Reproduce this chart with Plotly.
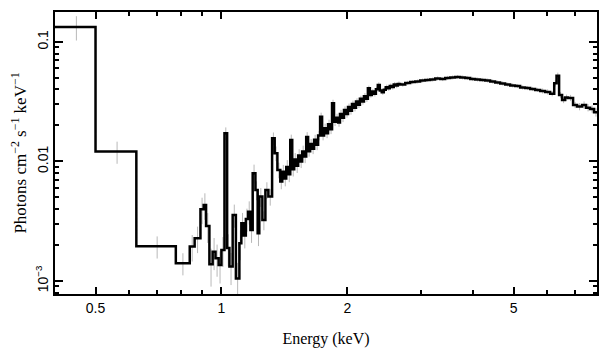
import numpy as np
import plotly.graph_objects as go

# Bin left edges (keV) and last right edge
bin_lo = [0.40, 0.50, 0.626, 0.778, 0.840, 0.863, 0.891, 0.907, 0.919, 0.936, 0.953, 0.968, 0.985,
          1.000, 1.017, 1.032, 1.045, 1.064, 1.083, 1.104, 1.116, 1.131, 1.144, 1.158, 1.173, 1.188,
          1.206, 1.221, 1.232, 1.253, 1.274, 1.295, 1.322, 1.341, 1.361,
          1.383, 1.398, 1.414, 1.429, 1.445, 1.461, 1.477, 1.493, 1.510, 1.526,
          1.543, 1.560, 1.577, 1.595, 1.612, 1.630, 1.648, 1.666, 1.685, 1.703,
          1.722, 1.741, 1.760, 1.780, 1.799, 1.819, 1.839, 1.859, 1.880, 1.901,
          1.921, 1.943, 1.964, 1.986, 2.008, 2.030, 2.052, 2.075, 2.098, 2.121,
          2.144, 2.168, 2.192, 2.216, 2.240, 2.265, 2.290, 2.315, 2.341, 2.366,
          2.392, 2.419, 2.445, 2.472, 2.500, 2.527, 2.555, 2.583, 2.612, 2.640,
          2.677, 2.752, 2.828, 2.907, 2.988, 3.072,
          3.157, 3.245, 3.336, 3.429, 3.525, 3.623, 3.724, 3.828, 3.935, 4.045, 4.158, 4.274, 4.393,
          4.515, 4.641, 4.771, 4.904, 5.041, 5.181, 5.326, 5.474, 5.627, 5.784, 5.945, 6.111, 6.250,
          6.330, 6.420, 6.526, 6.635, 6.745, 6.934, 7.089, 7.286, 7.447, 7.612, 7.782]
bin_hi_last = 7.95

# Flux (photons cm^-2 s^-1 keV^-1)
flux = [0.1335, 0.0121, 0.00195, 0.00141, 0.00194, 0.00228, 0.00398, 0.00433, 0.00289, 0.00138, 0.00176, 0.00155, 0.00136,
        0.00182, 0.0172, 0.00189, 0.00132, 0.00357, 0.00105, 0.00207, 0.00304, 0.00240, 0.00330, 0.00380, 0.00267, 0.00797,
        0.00577, 0.00251, 0.00508, 0.00324, 0.00577, 0.00508, 0.0156, 0.0117, 0.0085,
        0.0068, 0.0082, 0.0072, 0.0090, 0.0078, 0.0151, 0.0086, 0.0104, 0.0092, 0.0112,
        0.0100, 0.0121, 0.0110, 0.0160, 0.0122, 0.0140, 0.0128, 0.0152, 0.0138, 0.0165,
        0.0237, 0.0165, 0.0190, 0.0172, 0.0205, 0.0186, 0.0307, 0.0215, 0.0232, 0.0212,
        0.0250, 0.0232, 0.0270, 0.0250, 0.0285, 0.0265, 0.0302, 0.0282, 0.0318, 0.0298,
        0.0335, 0.0318, 0.0352, 0.0335, 0.0410, 0.0360, 0.0385, 0.0368, 0.0402, 0.0437,
        0.0392, 0.0380, 0.0398, 0.0418, 0.0410, 0.0428, 0.0420, 0.0440, 0.0432, 0.0445,
        0.0440, 0.0454, 0.0462, 0.0467, 0.0476, 0.0481,
        0.0485, 0.0495, 0.0490, 0.0500, 0.0505, 0.0509, 0.0505, 0.0500, 0.0490, 0.0485, 0.0481, 0.0476, 0.0467,
        0.0458, 0.0450, 0.0440, 0.0433, 0.0428, 0.0416, 0.0412, 0.0404, 0.0397, 0.0389, 0.0382, 0.0369, 0.0451,
        0.0522, 0.0360, 0.0327, 0.0342, 0.0340, 0.0297, 0.0288, 0.0297, 0.0282, 0.0275, 0.0258]

# Relative 1-sigma errors
err_frac = [0.23, 0.21, 0.21, 0.21, 0.25, 0.25, 0.25, 0.25, 0.28, 0.35, 0.30, 0.30, 0.30,
            0.28, 0.12, 0.30, 0.30, 0.22, 0.35, 0.28, 0.22, 0.22, 0.22, 0.22, 0.22, 0.18,
            0.18, 0.22, 0.18, 0.18, 0.16, 0.16, 0.12, 0.14, 0.15,
            0.14, 0.14, 0.14, 0.14, 0.14, 0.11, 0.13, 0.13, 0.13, 0.13,
            0.12, 0.12, 0.12, 0.10, 0.10, 0.10, 0.10, 0.10, 0.10, 0.09,
            0.08, 0.09, 0.09, 0.09, 0.09, 0.09, 0.07, 0.08, 0.08, 0.08,
            0.08, 0.08, 0.07, 0.07, 0.07, 0.07, 0.07, 0.07, 0.06, 0.06,
            0.06, 0.06, 0.06, 0.06, 0.05, 0.05, 0.05, 0.05, 0.05, 0.05,
            0.05, 0.05, 0.05, 0.05, 0.05, 0.05, 0.05, 0.05, 0.05, 0.05,
            0.04, 0.04, 0.04, 0.04, 0.04, 0.04,
            0.04, 0.04, 0.04, 0.04, 0.04, 0.04, 0.04, 0.04, 0.04, 0.04, 0.04, 0.04, 0.04,
            0.04, 0.04, 0.04, 0.04, 0.04, 0.04, 0.04, 0.04, 0.04, 0.05, 0.05, 0.05, 0.06,
            0.06, 0.06, 0.06, 0.06, 0.06, 0.06, 0.07, 0.07, 0.07, 0.07, 0.08]

assert len(bin_lo) == len(flux) == len(err_frac)

x_tick_vals = [0.5, 1, 2, 5]
x_tick_text = ["0.5", "1", "2", "5"]
x_minor = [0.4, 0.6, 0.7, 0.8, 0.9, 3, 4, 6, 7]
y_tick_vals = [0.001, 0.01, 0.1]
y_tick_text = ["10<sup>−3</sup>", "0.01", "0.1"]
y_minor = [8e-4, 9e-4] + [k * 1e-3 for k in range(2, 10)] + [k * 1e-2 for k in range(2, 10)]

edges = bin_lo + [bin_hi_last]
lo = np.array(bin_lo)
hi = np.array(bin_lo[1:] + [bin_hi_last])
centers = 0.5 * (lo + hi)
fl = np.array(flux)
err = fl * np.array(err_frac)

fig = go.Figure()
fig.add_trace(go.Scatter(
    x=centers, y=fl, mode="markers",
    marker=dict(size=1, color="rgba(0,0,0,0)"),
    error_y=dict(type="data", array=err, arrayminus=err, color="#b8b8b8", thickness=1, width=0),
    showlegend=False, hoverinfo="skip"))
fig.add_trace(go.Scatter(
    x=edges, y=flux + [flux[-1]], mode="lines",
    line=dict(color="black", width=2.5, shape="hv"),
    showlegend=False))

axis_common = dict(showline=True, linecolor="black", linewidth=1.5, mirror="ticks",
                   ticks="inside", tickwidth=1.5, tickcolor="black", showgrid=False, zeroline=False,
                   automargin=False)

fig.update_xaxes(type="log", range=[np.log10(0.4), np.log10(7.91)],
                 tickmode="array", tickvals=x_tick_vals, ticktext=x_tick_text, ticklen=7,
                 minor=dict(tickmode="array", tickvals=x_minor, ticks="inside", ticklen=4,
                            tickwidth=1.5, tickcolor="black", showgrid=False),
                 tickfont=dict(family="Liberation Sans", size=14, color="black"),
                 title=dict(text="Energy (keV)", font=dict(family="Liberation Serif", size=16, color="black"),
                            standoff=18),
                 **axis_common)
fig.update_yaxes(type="log", range=[np.log10(7.78e-4), np.log10(0.178)],
                 tickmode="array", tickvals=y_tick_vals, ticktext=y_tick_text, ticklen=8, tickangle=-90,
                 minor=dict(tickmode="array", tickvals=y_minor, ticks="inside", ticklen=4,
                            tickwidth=1.5, tickcolor="black", showgrid=False),
                 tickfont=dict(family="Liberation Sans", size=14, color="black"),
                 title=dict(text="Photons cm<sup>−2</sup> s<sup>−1</sup> keV<sup>−1</sup>",
                            font=dict(family="Liberation Serif", size=17, color="black"), standoff=6),
                 **axis_common)

# The page body adds an 8 px margin, so the figure is sized to fit inside the window.
fig.update_layout(width=601, height=349, margin=dict(l=47, r=12, t=4, b=63),
                  plot_bgcolor="white", paper_bgcolor="white")

fig.write_html("out.html")
